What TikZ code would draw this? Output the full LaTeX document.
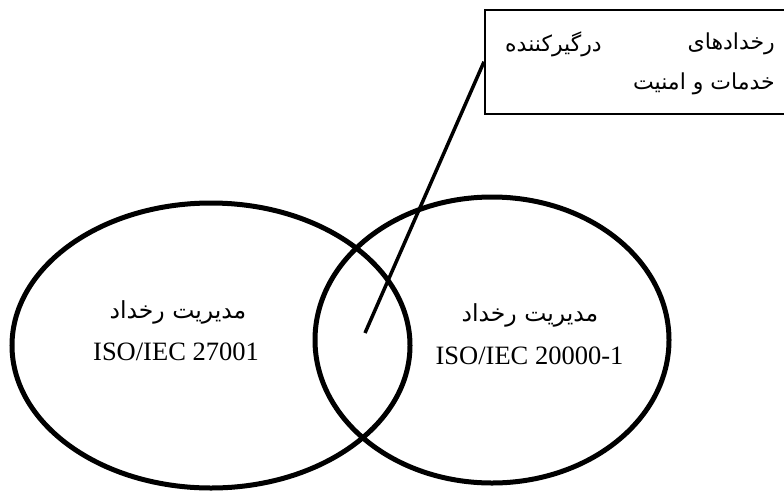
\documentclass[tikz,border=0pt]{standalone}
\usepackage{fontspec}
\setmainfont{Liberation Serif}
\newfontfamily\farsi[Script=Arabic]{DejaVu Sans}
\TeXXeTstate=1
\usetikzlibrary{positioning}

\begin{document}
\begin{tikzpicture}[x=1pt,y=-1pt,
  ring/.style={line width=5pt},
  lab/.style={font=\fontsize{26.5}{30}\selectfont,inner sep=0pt},
  fa/.style={font=\fontsize{23.5}{28}\selectfont\farsi,inner sep=0pt},
  boxfa/.style={font=\fontsize{22}{26}\selectfont\farsi,inner sep=0pt}]
  \useasboundingbox (0,0) rectangle (784,491);
  \draw[ring] (211,345.5) ellipse [x radius=199, y radius=142.5];
  \draw[ring] (492,340) ellipse [x radius=177, y radius=143];
  \node[fa] (leftfa) at (178,312) {\beginR مدیریت رخداد\endR};
  \node[lab] (leftiso) at (176,352) {ISO/IEC 27001};
  \node[fa] (rightfa) at (530,315) {\beginR مدیریت رخداد\endR};
  \node[lab] (rightiso) at (529.5,356) {ISO/IEC 20000-1};
  % box with the shared incidents
  \node[draw,line width=1.5pt,minimum width=320pt,minimum height=104pt,anchor=north west] (events) at (484,9) {};
  \node[boxfa,anchor=east] (w1) at (775,44) {\beginR رخدادهای\endR};
  \node[boxfa,anchor=west] (w2) at (505,44) {\beginR درگیرکننده\endR};
  \node[boxfa,anchor=east] (w3) at (775,84) {\beginR خدمات و امنیت\endR};
  \coordinate (hit) at (365,333);
  \draw[line width=3.5pt] (events.west) -- (hit);
\end{tikzpicture}
\end{document}
